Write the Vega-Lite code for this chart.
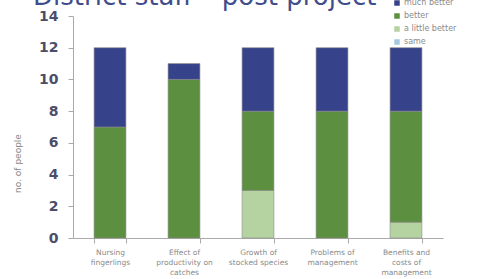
{
  "$schema": "https://vega.github.io/schema/vega-lite/v6.json",
  "autosize": "none",
  "width": 370,
  "height": 222,
  "padding": {"left": 73, "top": 16, "right": 42, "bottom": 41},
  "background": "white",
  "title": {
    "text": "District staff \u2013 post project",
    "anchor": "start",
    "frame": "group",
    "dx": -40,
    "dy": 32,
    "baseline": "alphabetic",
    "offset": 0,
    "fontSize": 26,
    "font": "DejaVu Sans",
    "fontWeight": "normal",
    "color": "#3f4d8c"
  },
  "data": {
    "values": [
      {"topic": "Nursing|fingerlings", "rating": "better", "rank": 2, "people": 7},
      {"topic": "Nursing|fingerlings", "rating": "much better", "rank": 3, "people": 5},
      {"topic": "Effect of|productivity on|catches", "rating": "better", "rank": 2, "people": 10},
      {"topic": "Effect of|productivity on|catches", "rating": "much better", "rank": 3, "people": 1},
      {"topic": "Growth of|stocked species", "rating": "a little better", "rank": 1, "people": 3},
      {"topic": "Growth of|stocked species", "rating": "better", "rank": 2, "people": 5},
      {"topic": "Growth of|stocked species", "rating": "much better", "rank": 3, "people": 4},
      {"topic": "Problems of|management", "rating": "better", "rank": 2, "people": 8},
      {"topic": "Problems of|management", "rating": "much better", "rank": 3, "people": 4},
      {"topic": "Benefits and|costs of|management", "rating": "a little better", "rank": 1, "people": 1},
      {"topic": "Benefits and|costs of|management", "rating": "better", "rank": 2, "people": 7},
      {"topic": "Benefits and|costs of|management", "rating": "much better", "rank": 3, "people": 4}
    ]
  },
  "mark": {"type": "bar", "stroke": "#8a8a8a", "strokeWidth": 0.6},
  "encoding": {
    "x": {
      "field": "topic",
      "type": "nominal",
      "sort": null,
      "scale": {"paddingInner": 0.57, "paddingOuter": 0.285},
      "axis": {
        "title": null,
        "labelAngle": 0,
        "labelExpr": "split(datum.label, '|')",
        "labelFont": "DejaVu Sans",
        "labelFontSize": 7.5,
        "labelColor": "#8a8a8a",
        "labelLineHeight": 10,
        "labelPadding": 9,
        "labelBaseline": "middle",
        "tickBand": "extent",
        "tickSize": 5,
        "tickColor": "#aaaaaa",
        "domainColor": "#aaaaaa",
        "grid": false
      }
    },
    "y": {
      "field": "people",
      "type": "quantitative",
      "aggregate": "sum",
      "stack": "zero",
      "scale": {"domain": [0, 14], "nice": false},
      "axis": {
        "title": "no. of people",
        "titleFont": "DejaVu Sans",
        "titleFontSize": 9,
        "titleFontWeight": "normal",
        "titleColor": "#888888",
        "titleX": -51,
        "titleY": 147,
        "values": [0, 2, 4, 6, 8, 10, 12, 14],
        "labelFont": "DejaVu Sans",
        "labelFontSize": 14,
        "labelFontWeight": "bold",
        "labelColor": "#4a4e6a",
        "labelPadding": 10,
        "tickSize": 5,
        "tickColor": "#aaaaaa",
        "domainColor": "#aaaaaa",
        "grid": false
      }
    },
    "color": {
      "field": "rating",
      "type": "nominal",
      "scale": {
        "domain": ["much better", "better", "a little better", "same"],
        "range": ["#36438a", "#5d8f40", "#b4d3a0", "#a5c9e0"]
      },
      "legend": {
        "title": null,
        "orient": "none",
        "legendX": 320,
        "legendY": -17,
        "symbolType": "square",
        "symbolSize": 30,
        "symbolStrokeWidth": 0,
        "labelFont": "DejaVu Sans",
        "labelFontSize": 8,
        "labelColor": "#8a8a8a",
        "rowPadding": 5,
        "labelOffset": 3
      }
    },
    "order": {"field": "rank", "type": "quantitative"}
  },
  "config": {"view": {"stroke": null}}
}
